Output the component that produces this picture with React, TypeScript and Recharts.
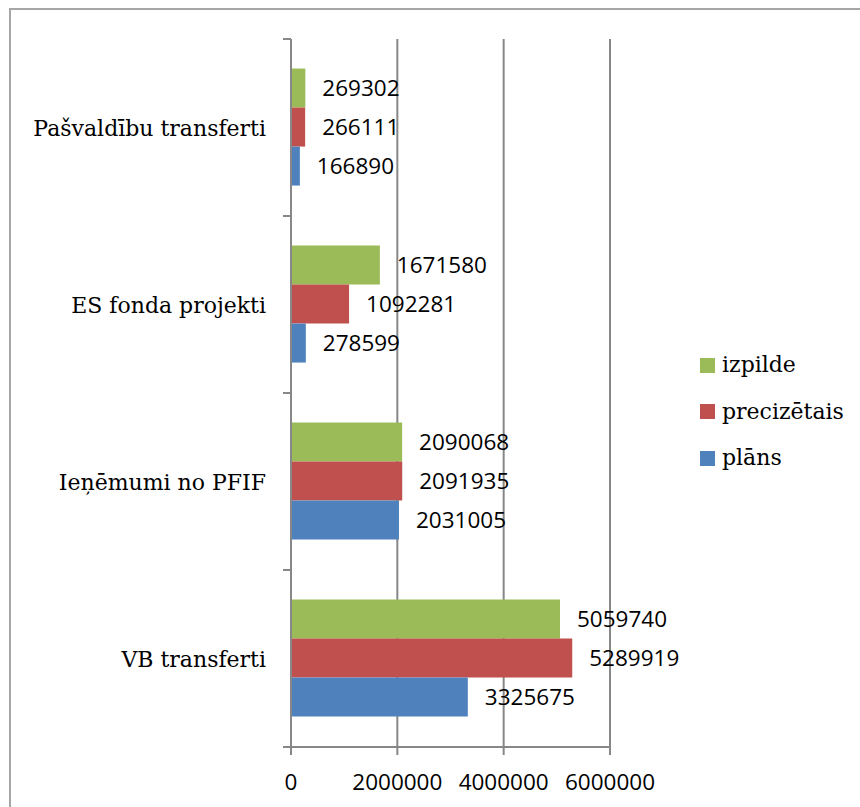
import React from 'react';
import { BarChart, Bar, XAxis, YAxis, CartesianGrid, Legend, LabelList } from 'recharts';

const categories = ['Pašvaldību transferti', 'ES fonda projekti', 'Ieņēmumi no PFIF', 'VB transferti'];
const izpilde = [269302, 1671580, 2090068, 5059740];
const precizetais = [266111, 1092281, 2091935, 5289919];
const plans = [166890, 278599, 2031005, 3325675];
const xTicks = [0, 2000000, 4000000, 6000000];

const series = [
  { key: 'izpilde', name: 'izpilde', color: '#9BBB59' },
  { key: 'precizetais', name: 'precizētais', color: '#C0504D' },
  { key: 'plans', name: 'plāns', color: '#4F81BD' },
];

const data = categories.map((name, i) => ({
  name,
  izpilde: izpilde[i],
  precizetais: precizetais[i],
  plans: plans[i],
}));

const W = 860;
const H = 807;
const MARGIN = { top: 39, right: 250, bottom: 0, left: 0 };
const X_AXIS_H = 60;
const BAND = (H - MARGIN.top - MARGIN.bottom - X_AXIS_H) / categories.length;
const GRAY = '#878787';
const SERIF = '"DejaVu Serif", serif';
const SANS = '"Open Sans", sans-serif';

// category ticks sit on band edges, like the Excel original
const CategoryTick = (props: any) => {
  const { x, y, payload } = props;
  const last = payload.value === categories[categories.length - 1];
  return (
    <g>
      <line x1={x - 8} x2={x} y1={y - BAND / 2} y2={y - BAND / 2} stroke={GRAY} strokeWidth={2} />
      {last && <line x1={x - 8} x2={x} y1={y + BAND / 2} y2={y + BAND / 2} stroke={GRAY} strokeWidth={2} />}
      <text x={x - 25} y={y} dy="0.38em" textAnchor="end" fontFamily={SERIF} fontSize={22} fill="#000">
        {payload.value}
      </text>
    </g>
  );
};

const LegendContent = () => (
  <div>
    {series.map((s) => (
      <div key={s.key} style={{ display: 'flex', alignItems: 'center', height: 46.5 }}>
        <span style={{ display: 'inline-block', width: 15, height: 15, background: s.color, marginRight: 7 }} />
        <span style={{ fontFamily: SERIF, fontSize: 22, color: '#000', lineHeight: 1 }}>{s.name}</span>
      </div>
    ))}
  </div>
);

export default function App() {
  return (
    <div style={{ position: 'fixed', left: 0, top: 0, width: W, height: H, overflow: 'hidden', background: '#fff' }}>
      <div
        style={{
          position: 'absolute',
          left: 9,
          top: 8,
          width: 900,
          height: 900,
          border: '2px solid #a6a6a6',
        }}
      />
      <div style={{ position: 'absolute', left: 0, top: 0 }}>
        <BarChart
          width={W}
          height={H}
          data={data}
          layout="vertical"
          margin={MARGIN}
          barCategoryGap="16.7%"
          barGap={0}
        >
          <CartesianGrid horizontal={false} stroke={GRAY} strokeWidth={2} />
          <XAxis
            type="number"
            domain={[0, 6000000]}
            ticks={xTicks}
            interval={0}
            height={X_AXIS_H}
            axisLine={{ stroke: GRAY, strokeWidth: 2 }}
            tickLine={{ stroke: GRAY, strokeWidth: 2 }}
            tickSize={8}
            tickMargin={19}
            tick={{ fontFamily: SANS, fontSize: 22.5, fill: '#000' }}
          />
          <YAxis
            type="category"
            dataKey="name"
            width={291}
            axisLine={{ stroke: GRAY, strokeWidth: 2 }}
            tickLine={false}
            tickSize={0}
            tickMargin={0}
            interval={0}
            tick={<CategoryTick />}
          />
          <Legend
            layout="vertical"
            align="center"
            verticalAlign="middle"
            wrapperStyle={{ left: 700, top: 342, width: 160 }}
            content={<LegendContent />}
          />
          {series.map((s) => (
            <Bar key={s.key} dataKey={s.key} name={s.name} fill={s.color} isAnimationActive={false}>
              <LabelList
                dataKey={s.key}
                position="right"
                offset={17}
                style={{ fontFamily: SANS, fontSize: 22.5, fill: '#000' }}
              />
            </Bar>
          ))}
        </BarChart>
      </div>
    </div>
  );
}
